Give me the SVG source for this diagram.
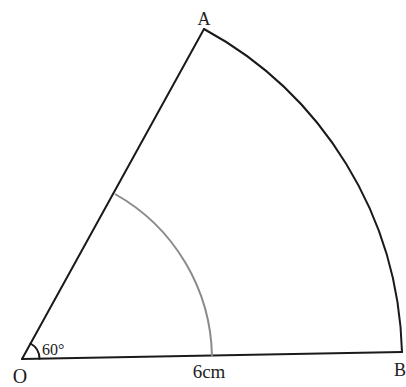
<svg xmlns="http://www.w3.org/2000/svg" width="406" height="387" viewBox="0 0 406 387">
<style>
.ln{fill:none;stroke:#1a1a1a;stroke-width:2;stroke-linecap:round}
.lbl{font-family:"Liberation Serif","DejaVu Serif",serif;fill:#222}
</style>
<rect width="406" height="387" fill="#fff"/>
<g id="connectors">
<path class="ln" d="M22,359 L204,29"/>
<path class="ln" d="M22,359 L402,352"/>
<path class="ln" d="M204,29 A379,379 0 0,1 402,352"/>
<path d="M115,194 A190,190 0 0,1 212,357" fill="none" stroke="#8a8a8a" stroke-width="2"/>
<path class="ln" d="M30.5,343.5 A17.5,17.5 0 0,1 39.5,358.7" stroke-width="1.5"/>
</g>
<g id="A"><text class="lbl" x="204" y="25" font-size="18" text-anchor="middle">A</text></g>
<g id="O"><text class="lbl" x="20" y="383" font-size="20" text-anchor="middle">O</text></g>
<g id="B"><text class="lbl" x="400" y="376" font-size="18" text-anchor="middle">B</text></g>
<g id="angle"><text class="lbl" x="42" y="355" font-size="16">60°</text></g>
<g id="length"><text class="lbl" x="209" y="378" font-size="19" text-anchor="middle">6cm</text></g>
</svg>
